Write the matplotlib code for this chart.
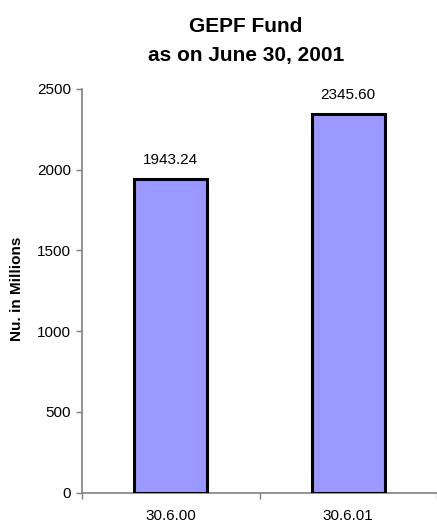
import matplotlib
matplotlib.use("Agg")
import matplotlib.pyplot as plt
import numpy as np

categories = ["30.6.00", "30.6.01"]
values = [1943.24, 2345.60]
value_labels = ["1943.24", "2345.60"]
yticks = [0, 500, 1000, 1500, 2000, 2500]

plt.rcParams['font.family'] = ['Liberation Sans', 'DejaVu Sans']

W, H = 437, 524
fig = plt.figure(figsize=(W / 100, H / 100), dpi=100)
ax = fig.add_axes([82 / W, (H - 492.7) / H, (437 - 82) / W, (492.7 - 89) / H])

x = np.arange(len(categories))
ax.bar(x, values, width=0.41, color="#9999FF", edgecolor="black", linewidth=2.2, zorder=3)

for xi, v, lab in zip(x, values, value_labels):
    ax.annotate(lab, (xi, v), xytext=(0, 11), textcoords="offset points",
                ha="center", va="baseline", fontsize=11)

ax.set_xlim(-0.5, 1.5)
ax.set_ylim(0, 2500)
ax.set_yticks(yticks)
ax.set_yticklabels([str(t) for t in yticks], fontsize=11)

ax.set_xticks([-0.5, 0.5, 1.5])
ax.set_xticklabels([])
ax.set_xticks(x, minor=True)
ax.set_xticklabels(categories, minor=True, fontsize=11)
ax.tick_params(axis="x", which="minor", length=0, pad=12)
ax.tick_params(axis="x", which="major", length=4, width=1, color="#808080", direction="out")
ax.tick_params(axis="y", length=4, width=1, color="#808080", direction="out", pad=4)

for s in ["top", "right"]:
    ax.spines[s].set_visible(False)
for s in ["left", "bottom"]:
    ax.spines[s].set_color("#808080")
    ax.spines[s].set_linewidth(1.2)

fig.text(246 / W, 1 - 27 / H, "GEPF Fund", ha="center", va="center",
         fontsize=15, fontweight="bold")
fig.text(246 / W, 1 - 55 / H, "as on June 30, 2001", ha="center", va="center",
         fontsize=15, fontweight="bold")
fig.text(17.5 / W, 1 - 289 / H, "Nu. in Millions", ha="center", va="center",
         rotation=90, fontsize=11, fontweight="bold")

fig.savefig("out.png", dpi=100)
